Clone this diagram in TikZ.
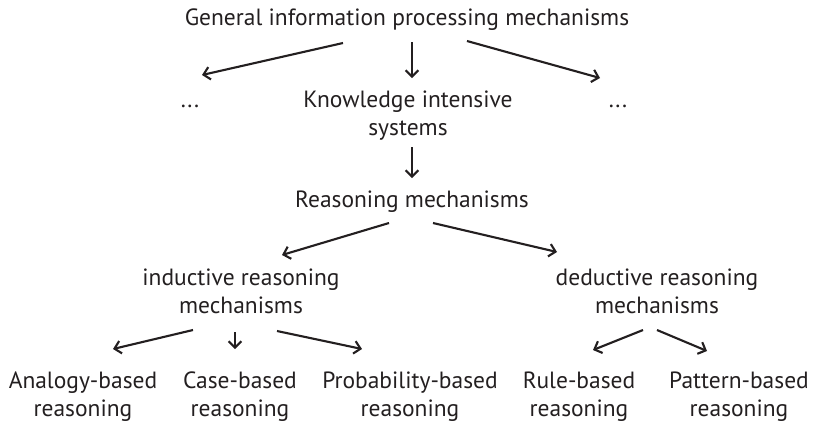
\documentclass[tikz,border=0pt]{standalone}
\usepackage{fontspec}
\setmainfont{PT Sans}
\usetikzlibrary{arrows.meta,calc}

\definecolor{ink}{HTML}{231F20}

\begin{document}
\begin{tikzpicture}[
  x=0.025cm, y=-0.025cm,
  lbl/.style={font=\fontsize{16.7pt}{19.9pt}\selectfont, text=ink, align=center, inner sep=0pt},
  arr/.style={-{Straight Barb[length=4.5pt, width=9pt]}, line width=1.5pt, draw=ink}
]
\useasboundingbox (0,0) rectangle (813,424);

% levels from top to bottom
\node[lbl] (gen) at (407,20) {General information processing mechanisms};
\node[lbl] (ldots) at (190,106) {...};
\node[lbl] (kis) at (408,116) {Knowledge intensive\\systems};
\node[lbl] (rdots) at (618,106) {...};
\node[lbl] (rm) at (412,202) {Reasoning mechanisms};
\node[lbl] (ind) at (241,291) {inductive reasoning\\mechanisms};
\node[lbl] (ded) at (657,291) {deductive reasoning\\mechanisms};
\node[lbl] (ana) at (83,397) {Analogy-based\\reasoning};
\node[lbl] (case) at (240,397) {Case-based\\reasoning};
\node[lbl] (prob) at (410,397) {Probability-based\\reasoning};
\node[lbl] (rule) at (579,397) {Rule-based\\reasoning};
\node[lbl] (pat) at (739,397) {Pattern-based\\reasoning};

\draw[arr] ($(gen)+(-64,23)$) -- ($(ldots)+(12,-31)$);
\draw[arr] ($(gen)+(5,22)$) -- ($(kis)+(4,-38)$);
\draw[arr] ($(gen)+(60,21)$) -- ($(rdots)+(-18,-28)$);
\draw[arr] ($(kis)+(4,31)$) -- ($(rm)+(0,-24)$);
\draw[arr] ($(rm)+(-23,21)$) -- ($(ind)+(41,-36)$);
\draw[arr] ($(rm)+(21,21)$) -- ($(ded)+(-100,-39)$);
\draw[arr] ($(ind)+(-48,39)$) -- ($(ana)+(30,-48)$);
\draw[arr] ($(ind)+(-6,41)$) -- ($(case)+(-5,-48)$);
\draw[arr] ($(ind)+(36,40)$) -- ($(prob)+(-48,-48)$);
\draw[arr] ($(ded)+(-14,39)$) -- ($(rule)+(14,-47)$);
\draw[arr] ($(ded)+(0,39)$) -- ($(pat)+(-32,-46)$);
\end{tikzpicture}
\end{document}
